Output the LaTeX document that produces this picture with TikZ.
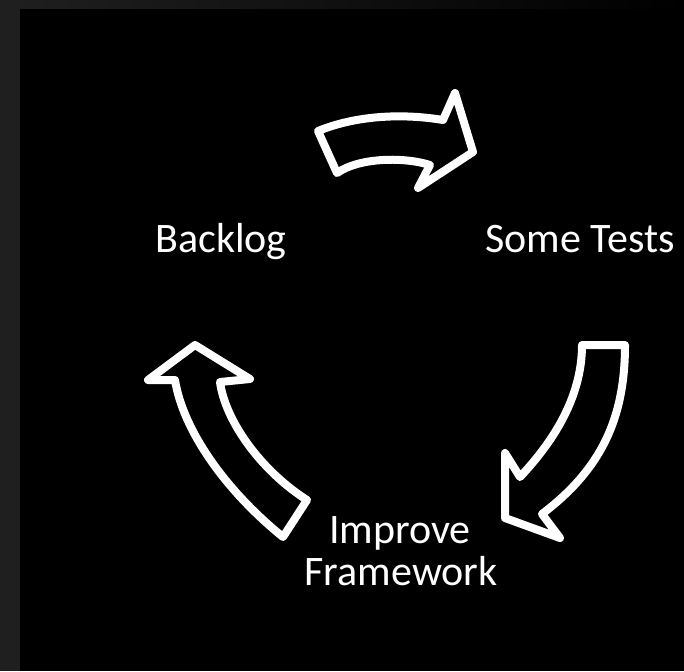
\documentclass[tikz,border=0pt]{standalone}
\usepackage{fontspec}
\setmainfont{Carlito}
\begin{document}
\begin{tikzpicture}[x=1pt,y=-1pt,
  cyclearrow/.style={draw=white,line width=8pt,line join=round,fill=black},
  label/.style={text=white,anchor=base,inner sep=0pt,font=\fontsize{42}{40}\selectfont}]
\useasboundingbox (0,0) rectangle (684,671);
\fill[black] (0,0) rectangle (684,671);
\fill[black!88!white] (0,0) rectangle (20,671);
\shade[left color=black!88!white,right color=black] (20,0) rectangle (684,9);
% top arrow
\draw[cyclearrow] (318,131) .. controls (360,114) and (407,114) .. (443,120)
  -- (455,93) -- (473,152) -- (418,188) -- (430,165)
  .. controls (405,157) and (360,157) .. (337,173) -- cycle;
% right arrow
\draw[cyclearrow] (582,345) -- (625,345)
  .. controls (625,420) and (600,470) .. (542,514)
  -- (560,538) -- (505,518) -- (505,453) -- (520,477)
  .. controls (550,445) and (582,400) .. (582,345) -- cycle;
% left arrow
\draw[cyclearrow] (195,345) -- (250,379) -- (220,382)
  .. controls (225,420) and (260,470) .. (307,500)
  -- (283,537)
  .. controls (225,490) and (183,430) .. (175,380)
  -- (148,380) -- cycle;
\node[label] (backlog) at (221,252) {Backlog};
\node[label] (tests) at (580,252) {Some Tests};
\node[label] (improve) at (400,543) {Improve};
\node[label] (framework) at (401,585) {Framework};
\end{tikzpicture}
\end{document}
